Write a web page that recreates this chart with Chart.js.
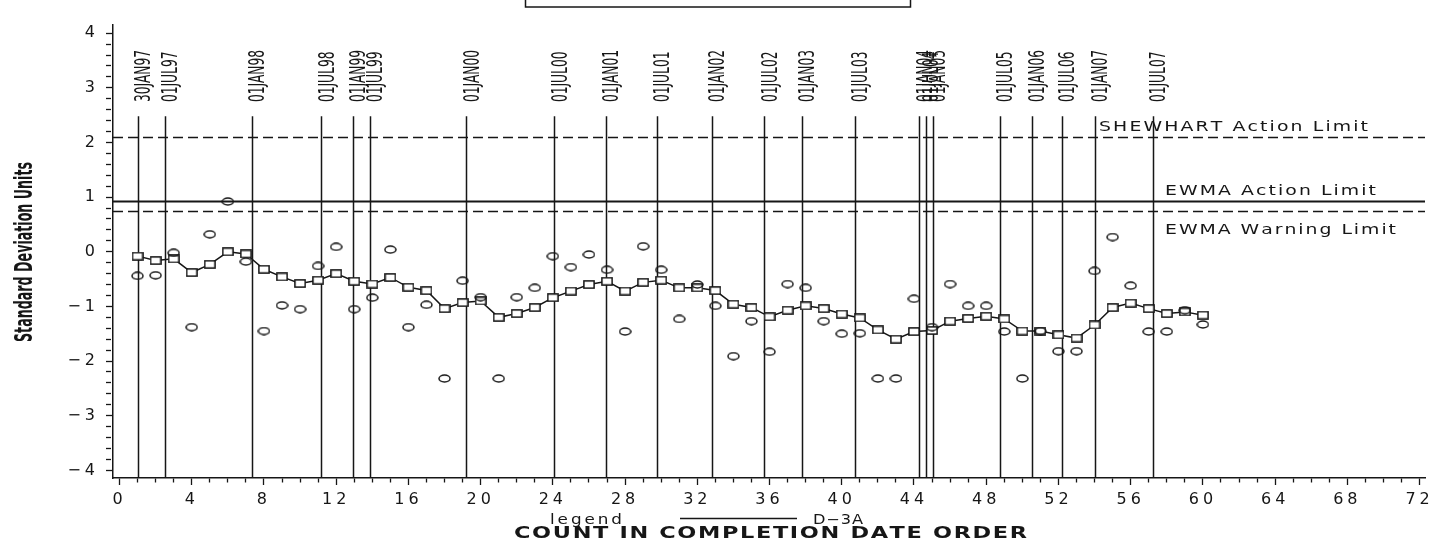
<!DOCTYPE html>
<html>
<head>
<meta charset="utf-8">
<script src="https://cdn.jsdelivr.net/npm/chart.js@4.4.1/dist/chart.umd.min.js"></script>
<style>
  html, body { margin: 0; padding: 0; background: #fff; }
  canvas { display: block; }
</style>
</head>
<body>
<canvas id="ewma" width="1448" height="547"></canvas>
<script>
// individual standardised results, in completion date order
var individual = [
    -0.44, -0.43, -0.02, -1.38, 0.32, 0.92, -0.18, -1.45, -0.98, -1.05,
    -0.26, 0.09, -1.05, -0.84, 0.04, -1.38, -0.97, -2.32, -0.53, -0.83,
    -2.32, -0.83, -0.66, -0.08, -0.28, -0.05, -0.33, -1.46, 0.10, -0.33,
    -1.23, -0.60, -0.99, -1.91, -1.27, -1.83, -0.59, -0.66, -1.27, -1.50,
    -1.49, -2.32, -2.32, -0.86, -1.38, -0.59, -0.99, -0.99, -1.46, -2.32,
    -1.45, -1.82, -1.82, -0.35, 0.27, -0.62, -1.46, -1.46, -1.07, -1.33
];
// EWMA of the same results
var ewma = [
    -0.08, -0.16, -0.13, -0.38, -0.23, 0.00, -0.04, -0.32, -0.46, -0.58,
    -0.52, -0.40, -0.54, -0.59, -0.47, -0.65, -0.71, -1.04, -0.93, -0.90,
    -1.20, -1.13, -1.02, -0.84, -0.72, -0.60, -0.54, -0.72, -0.56, -0.52,
    -0.66, -0.66, -0.71, -0.96, -1.02, -1.19, -1.07, -0.99, -1.04, -1.14,
    -1.21, -1.43, -1.60, -1.46, -1.44, -1.27, -1.22, -1.18, -1.23, -1.45,
    -1.45, -1.52, -1.58, -1.34, -1.02, -0.94, -1.04, -1.13, -1.10, -1.16
];

// date markers: label and position on the count axis
var dateLabels = ['30JAN97', '01JUL97', '01JAN98', '01JUL98', '01JAN99', '01JUL99', '01JAN00',
    '01JUL00', '01JAN01', '01JUL01', '01JAN02', '01JUL02', '01JAN03', '01JUL03',
    '01JAN04', '01JUL04', '01JAN05', '01JUL05', '01JAN06', '01JUL06', '01JAN07', '01JUL07'];
var dateCounts = [1.0, 2.5, 7.32, 11.18, 12.93, 13.87, 19.19,
    24.08, 26.94, 29.75, 32.79, 35.70, 37.79, 40.73,
    44.29, 44.66, 45.03, 48.75, 50.51, 52.19, 54.0, 57.21];

// control limits
var limitNames = ['SHEWHART Action Limit', 'EWMA Action Limit', 'EWMA Warning Limit'];
var limitValues = [2.1, 0.93, 0.75];

var xTickLabels = ['0', '4', '8', '12', '16', '20', '24', '28', '32', '36', '40', '44', '48', '52', '56', '60', '64', '68', '72'];
var yTickLabels = ['\u22124', '\u22123', '\u22122', '\u22121', '0', '1', '2', '3', '4'];

var INK = '#161616';
var TICK_FONT = 'DejaVu Sans';

function isWhole(v) {
    return Math.abs(v - Math.round(v)) < 1e-6;
}

// little bitmap markers, the plot symbols are slightly flattened
function ellipseMark(w, h) {
    var c = document.createElement('canvas');
    c.width = w; c.height = h;
    var g = c.getContext('2d');
    g.strokeStyle = INK;
    g.lineWidth = 1.5;
    g.beginPath();
    g.ellipse(w / 2, h / 2, w / 2 - 1, h / 2 - 1, 0, 0, Math.PI * 2);
    g.stroke();
    return c;
}

function boxMark(w, h) {
    var c = document.createElement('canvas');
    c.width = w; c.height = h;
    var g = c.getContext('2d');
    g.fillStyle = '#fff';
    g.fillRect(1, 1, w - 2, h - 2);
    g.strokeStyle = INK;
    g.lineWidth = 1.5;
    g.strokeRect(0.9, 0.9, w - 1.8, h - 1.8);
    return c;
}

// text stretched out to a given width, one glyph at a time;
// stretch widens each glyph, the rest goes into the gaps
function spacedText(ctx, text, x, y, width, font, stretch) {
    stretch = stretch || 1;
    ctx.save();
    ctx.letterSpacing = '0px';
    ctx.font = font;
    ctx.fillStyle = INK;
    ctx.textAlign = 'left';
    ctx.textBaseline = 'alphabetic';
    var chars = text.split('');
    var plain = 0;
    chars.forEach(function (ch) { plain += ctx.measureText(ch).width * stretch; });
    var gap = chars.length > 1 ? (width - plain) / (chars.length - 1) : 0;
    var cx = x;
    chars.forEach(function (ch) {
        ctx.save();
        ctx.translate(cx, y);
        ctx.scale(stretch, 1);
        ctx.fillText(ch, 0, 0);
        ctx.restore();
        cx += ctx.measureText(ch).width * stretch + gap;
    });
    ctx.restore();
}

var controlPlugin = {
    id: 'controlLines',
    beforeDraw: function (chart) {
        var ctx = chart.ctx;
        ctx.save();
        ctx.fillStyle = '#fff';
        ctx.fillRect(0, 0, chart.width, chart.height);
        ctx.restore();
        // tick numbers are set wide
        ctx.letterSpacing = '4px';
    },
    beforeDatasetsDraw: function (chart) {
        var ctx = chart.ctx, area = chart.chartArea;
        var xs = chart.scales.x, ys = chart.scales.y;
        ctx.save();
        ctx.letterSpacing = '0px';
        ctx.strokeStyle = INK;

        // limits
        limitValues.forEach(function (v, i) {
            var py = Math.round(ys.getPixelForValue(v)) + 0.5;
            ctx.lineWidth = i === 1 ? 1.8 : 1.4;
            ctx.setLineDash(i === 1 ? [] : [10, 5]);
            ctx.beginPath();
            ctx.moveTo(area.left, py);
            ctx.lineTo(area.right, py);
            ctx.stroke();
        });

        // date markers
        ctx.setLineDash([]);
        ctx.lineWidth = 1.5;
        var top = ys.getPixelForValue(2.48);
        dateCounts.forEach(function (c) {
            var px = Math.round(xs.getPixelForValue(c)) + 0.5;
            ctx.beginPath();
            ctx.moveTo(px, top);
            ctx.lineTo(px, area.bottom);
            ctx.stroke();
        });
        ctx.restore();
    },
    afterDraw: function (chart) {
        var ctx = chart.ctx;
        var xs = chart.scales.x, ys = chart.scales.y;
        ctx.letterSpacing = '0px';

        // date marker labels, narrow type turned up the page
        ctx.save();
        ctx.fillStyle = INK;
        ctx.font = '21px "Liberation Sans Narrow", "DejaVu Sans Condensed", sans-serif';
        var sx = 52 / ctx.measureText('01JAN00').width;
        var base = ys.getPixelForValue(2.74);
        dateLabels.forEach(function (lab, i) {
            var px = xs.getPixelForValue(dateCounts[i]);
            ctx.save();
            ctx.translate(px + 12.5, base);
            ctx.rotate(-Math.PI / 2);
            ctx.scale(sx, 1);
            ctx.textAlign = 'left';
            ctx.textBaseline = 'alphabetic';
            ctx.fillText(lab, 0, 0);
            ctx.restore();
        });
        ctx.restore();

        // limit captions
        var capFont = '14.5px "DejaVu Sans", sans-serif';
        spacedText(ctx, limitNames[0], 1099, 131, 269, capFont, 1.3);
        spacedText(ctx, limitNames[1], 1165, 194.5, 211, capFont, 1.3);
        spacedText(ctx, limitNames[2], 1165, 234, 231, capFont, 1.3);

        // y axis title
        ctx.save();
        ctx.fillStyle = INK;
        ctx.font = 'bold 25px "Liberation Sans Narrow", "DejaVu Sans Condensed", sans-serif';
        var ty = 'Standard Deviation Units';
        var tsx = 180 / ctx.measureText(ty).width;
        ctx.translate(32, 252);
        ctx.rotate(-Math.PI / 2);
        ctx.scale(tsx, 1);
        ctx.textAlign = 'center';
        ctx.textBaseline = 'alphabetic';
        ctx.fillText(ty, 0, 0);
        ctx.restore();

        // legend and x axis title
        spacedText(ctx, 'legend', 550, 523.5, 72, '14px "DejaVu Sans", sans-serif', 1.2);
        ctx.save();
        ctx.strokeStyle = INK;
        ctx.lineWidth = 1.3;
        ctx.beginPath();
        ctx.moveTo(680, 518.5);
        ctx.lineTo(797, 518.5);
        ctx.stroke();
        ctx.restore();
        spacedText(ctx, 'D\u22123A', 813, 523.5, 50, '13.5px "DejaVu Sans", sans-serif', 1.2);
        spacedText(ctx, 'COUNT IN COMPLETION DATE ORDER', 514, 537.5, 513, 'bold 16px "DejaVu Sans", sans-serif', 1.4);

        // title frame, only its lower edge is on the page
        ctx.save();
        ctx.strokeStyle = INK;
        ctx.lineWidth = 1.5;
        ctx.strokeRect(525.5, -5, 385, 12);
        ctx.restore();
    }
};

window.onload = function () {
    var counts = individual.map(function (v, i) { return i + 1; });
    var ctx = document.getElementById('ewma').getContext('2d');

    window.ewmaChart = new Chart(ctx, {
        type: 'scatter',
        data: {
            datasets: [{
                label: 'individual',
                data: individual.map(function (v, i) { return { x: counts[i], y: v }; }),
                showLine: false,
                pointStyle: ellipseMark(13, 9),
                order: 0
            }, {
                label: 'EWMA',
                data: ewma.map(function (v, i) { return { x: counts[i], y: v }; }),
                showLine: true,
                borderColor: INK,
                borderWidth: 1.5,
                tension: 0,
                pointStyle: boxMark(12, 9),
                order: 1
            }]
        },
        options: {
            responsive: false,
            devicePixelRatio: 1,
            animation: false,
            events: [],
            layout: { padding: { left: 53, right: 23, top: 25, bottom: 29 } },
            plugins: {
                legend: { display: false },
                tooltip: { enabled: false },
                title: { display: false }
            },
            scales: {
                x: {
                    type: 'linear',
                    min: -0.36,
                    max: 72.3,
                    afterFit: function (s) { s.height = 40; },
                    border: { color: INK, width: 1.5 },
                    grid: {
                        drawOnChartArea: false,
                        tickLength: 7,
                        tickColor: INK,
                        tickWidth: 1.3,
                        tickBorderDash: function (c) {
                            return c.tick && c.tick.value % 4 === 0 ? [] : [4, 20];
                        }
                    },
                    ticks: {
                        stepSize: 1,
                        includeBounds: false,
                        autoSkip: false,
                        maxRotation: 0,
                        minRotation: 0,
                        padding: 5,
                        color: INK,
                        font: { family: TICK_FONT, size: 16 },
                        callback: function (v) {
                            var s = String(v);
                            return xTickLabels.indexOf(s) >= 0 ? s : '';
                        }
                    }
                },
                y: {
                    type: 'linear',
                    min: -4.14,
                    max: 4.15,
                    afterFit: function (s) { s.width = 60; },
                    border: { color: INK, width: 1.5 },
                    grid: {
                        drawOnChartArea: false,
                        tickLength: 7,
                        tickColor: INK,
                        tickWidth: 1.3,
                        tickBorderDash: function (c) {
                            return c.tick && isWhole(c.tick.value) ? [] : [5, 20];
                        }
                    },
                    ticks: {
                        stepSize: 0.2,
                        includeBounds: false,
                        autoSkip: false,
                        padding: 7,
                        color: INK,
                        font: { family: TICK_FONT, size: 16 },
                        callback: function (v) {
                            if (!isWhole(v)) return '';
                            var n = Math.round(v);
                            return yTickLabels[n + 4];
                        }
                    }
                }
            }
        },
        plugins: [controlPlugin]
    });
};
</script>
</body>
</html>
